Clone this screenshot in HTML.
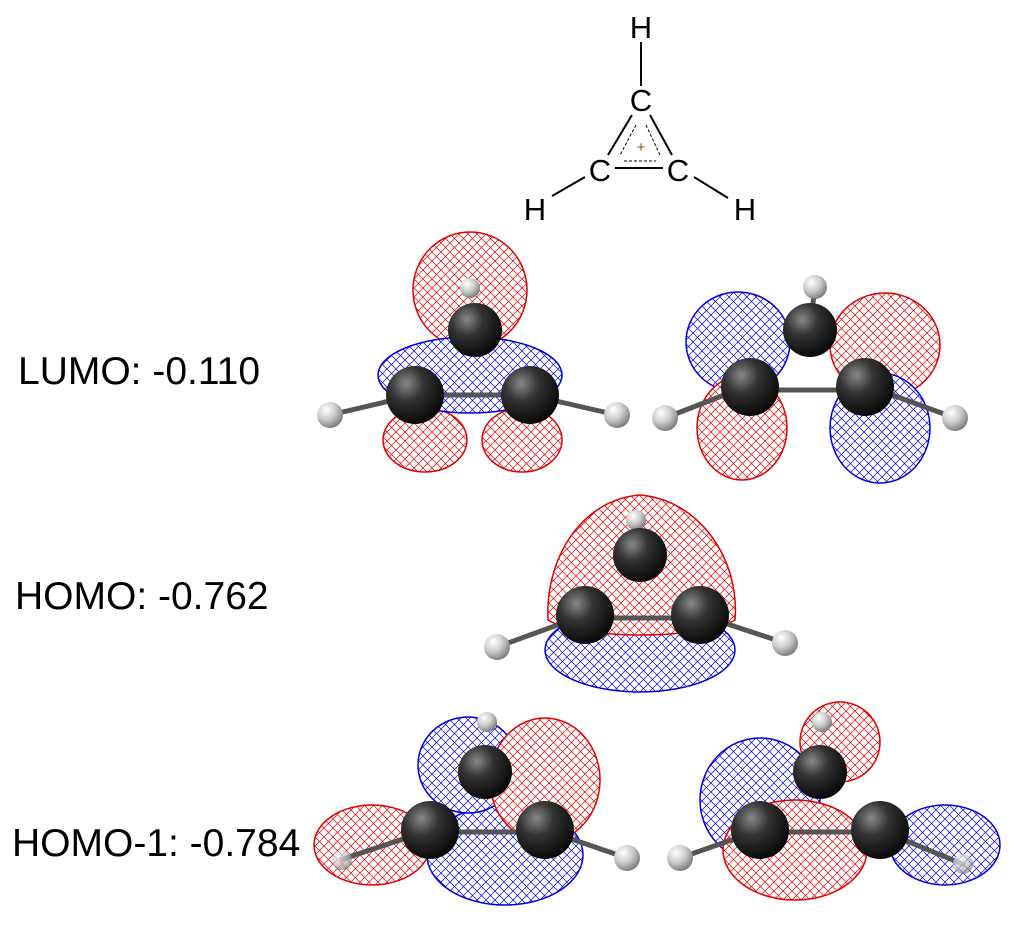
<!DOCTYPE html>
<html><head><meta charset="utf-8"><style>
html,body{margin:0;padding:0;background:#fff;}
svg{display:block}
</style></head><body>
<svg width="1024" height="925" viewBox="0 0 1024 925" xmlns="http://www.w3.org/2000/svg">
<defs>
<pattern id="mr" width="9" height="9" patternUnits="userSpaceOnUse">
<rect width="9" height="9" fill="#fff"/>
<path d="M0 0L9 9M9 0L0 9" stroke="#e00000" stroke-width="0.7"/>
</pattern>
<pattern id="mb" width="9" height="9" patternUnits="userSpaceOnUse">
<rect width="9" height="9" fill="#fff"/>
<path d="M0 0L9 9M9 0L0 9" stroke="#0000e0" stroke-width="0.7"/>
</pattern>
<radialGradient id="gc" cx="0.35" cy="0.3" r="0.75">
<stop offset="0" stop-color="#888"/><stop offset="0.4" stop-color="#333"/><stop offset="1" stop-color="#050505"/>
</radialGradient>
<radialGradient id="gh" cx="0.35" cy="0.3" r="0.75">
<stop offset="0" stop-color="#fff"/><stop offset="0.5" stop-color="#ccc"/><stop offset="1" stop-color="#777"/>
</radialGradient>
</defs>
<g font-family="Liberation Sans, sans-serif" font-size="39" fill="#000">
<text x="18" y="384">LUMO: -0.110</text>
<text x="15" y="609">HOMO: -0.762</text>
<text x="12" y="856">HOMO-1: -0.784</text>
</g>
<g font-family="Liberation Sans, sans-serif" font-size="31" text-anchor="middle" fill="#000">
<text x="641" y="38">H</text>
<text x="641" y="111">C</text>
<text x="600" y="181">C</text>
<text x="678" y="181">C</text>
<text x="535" y="220">H</text>
<text x="745" y="220">H</text>
<text x="641" y="152" font-size="15" fill="#8a5a00">+</text>
</g>
<g stroke="#000" stroke-width="2" fill="none">
<line x1="641" y1="42" x2="641" y2="86"/>
<line x1="632" y1="115" x2="608" y2="155"/>
<line x1="650" y1="115" x2="672" y2="155"/>
<line x1="615" y1="168" x2="663" y2="168"/>
<line x1="552" y1="196" x2="585" y2="177"/>
<line x1="694" y1="177" x2="728" y2="198"/>
<g stroke-width="1" stroke-dasharray="3,2">
<line x1="636" y1="125" x2="620" y2="155"/>
<line x1="646" y1="125" x2="660" y2="155"/>
<line x1="624" y1="161" x2="656" y2="161"/>
</g>
</g>
<g stroke-width="1.5">
<ellipse cx="470" cy="290" rx="57" ry="58" fill="url(#mr)" stroke="#e00000"/>
<ellipse cx="425" cy="440" rx="42" ry="32" fill="url(#mr)" stroke="#e00000"/>
<ellipse cx="522" cy="440" rx="40" ry="32" fill="url(#mr)" stroke="#e00000"/>
<ellipse cx="470" cy="375" rx="92" ry="38" fill="url(#mb)" stroke="#0000e0"/>
<ellipse cx="738" cy="342" rx="52" ry="50" fill="url(#mb)" stroke="#0000e0"/>
<ellipse cx="885" cy="345" rx="55" ry="52" fill="url(#mr)" stroke="#e00000"/>
<ellipse cx="742" cy="428" rx="45" ry="52" fill="url(#mr)" stroke="#e00000"/>
<ellipse cx="880" cy="428" rx="50" ry="55" fill="url(#mb)" stroke="#0000e0"/>
<ellipse cx="640" cy="650" rx="95" ry="42" fill="url(#mb)" stroke="#0000e0"/>
<path d="M548 620 C545 560 580 500 640 495 C700 500 740 560 735 620 C700 640 580 640 548 620 Z" fill="url(#mr)" stroke="#e00000"/>
<ellipse cx="372" cy="845" rx="58" ry="40" fill="url(#mr)" stroke="#e00000"/>
<ellipse cx="505" cy="855" rx="78" ry="50" fill="url(#mb)" stroke="#0000e0"/>
<ellipse cx="468" cy="765" rx="50" ry="48" fill="url(#mb)" stroke="#0000e0"/>
<ellipse cx="545" cy="780" rx="55" ry="62" fill="url(#mr)" stroke="#e00000"/>
<ellipse cx="760" cy="800" rx="60" ry="62" fill="url(#mb)" stroke="#0000e0"/>
<ellipse cx="840" cy="742" rx="40" ry="40" fill="url(#mr)" stroke="#e00000"/>
<ellipse cx="945" cy="845" rx="55" ry="40" fill="url(#mb)" stroke="#0000e0"/>
<ellipse cx="795" cy="850" rx="72" ry="50" fill="url(#mr)" stroke="#e00000"/>
</g>
<g stroke="#555" stroke-width="5">
<line x1="330" y1="415" x2="415" y2="395"/><line x1="617" y1="415" x2="530" y2="395"/><line x1="415" y1="395" x2="530" y2="395"/>
<line x1="665" y1="418" x2="750" y2="385"/><line x1="955" y1="418" x2="865" y2="385"/><line x1="750" y1="390" x2="865" y2="390"/><line x1="815" y1="285" x2="810" y2="330"/>
<line x1="497" y1="647" x2="585" y2="615"/><line x1="785" y1="643" x2="700" y2="615"/><line x1="585" y1="618" x2="700" y2="618"/>
<line x1="340" y1="860" x2="430" y2="830"/><line x1="627" y1="858" x2="545" y2="830"/><line x1="430" y1="832" x2="545" y2="832"/>
<line x1="680" y1="858" x2="760" y2="830"/><line x1="965" y1="865" x2="880" y2="830"/><line x1="760" y1="832" x2="880" y2="832"/>
</g>
<g fill="url(#gh)">
<circle cx="470" cy="288" r="10"/><circle cx="636" cy="520" r="10"/><circle cx="487" cy="722" r="10"/><circle cx="822" cy="722" r="10"/>
</g>
<g fill="url(#gc)">
<circle cx="475" cy="330" r="27"/><circle cx="415" cy="395" r="29"/><circle cx="530" cy="395" r="29"/>
<circle cx="810" cy="330" r="27"/><circle cx="750" cy="387" r="29"/><circle cx="865" cy="387" r="29"/>
<circle cx="640" cy="555" r="27"/><circle cx="585" cy="615" r="29"/><circle cx="700" cy="615" r="29"/>
<circle cx="485" cy="772" r="27"/><circle cx="430" cy="830" r="29"/><circle cx="545" cy="830" r="29"/>
<circle cx="820" cy="772" r="27"/><circle cx="760" cy="830" r="29"/><circle cx="880" cy="830" r="29"/>
</g>
<g fill="url(#gh)">
<circle cx="330" cy="415" r="13"/><circle cx="617" cy="415" r="13"/>
<circle cx="815" cy="287" r="12"/><circle cx="665" cy="418" r="13"/><circle cx="955" cy="418" r="13"/>
<circle cx="497" cy="647" r="13"/><circle cx="785" cy="643" r="13"/>
<circle cx="627" cy="858" r="13"/><circle cx="680" cy="858" r="13"/>
<circle cx="342" cy="860" r="10" opacity="0.7"/><circle cx="963" cy="864" r="10" opacity="0.7"/>
</g>
</svg>
</body></html>
